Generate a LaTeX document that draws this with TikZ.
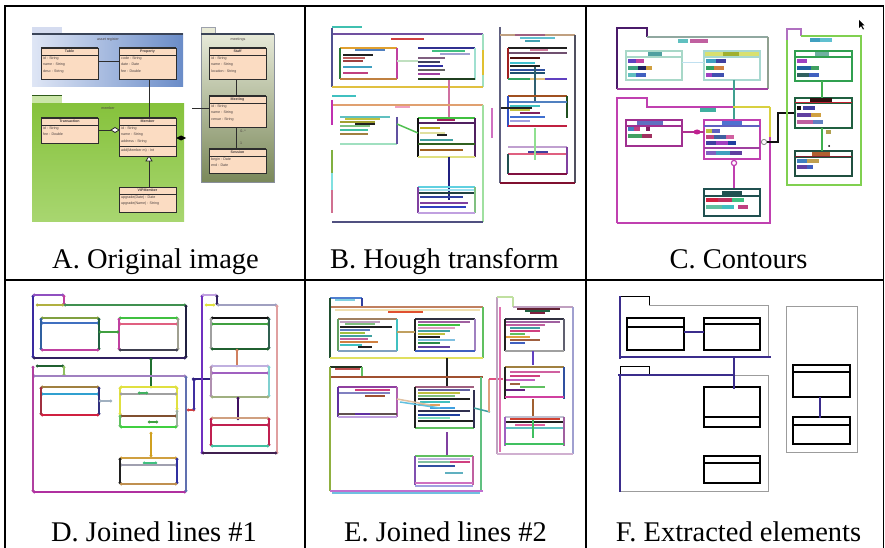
\documentclass[tikz,border=0pt]{standalone}
\usepackage{fontspec}
\setmainfont{Liberation Serif}
\newfontfamily\tinysans{Liberation Sans}
\usetikzlibrary{arrows.meta}
\definecolor{peach}{HTML}{FBDCC2}
\definecolor{umlline}{HTML}{2D2D2D}
\definecolor{umltext}{HTML}{4A4040}
\definecolor{tabblue}{HTML}{D5DCF0}
\definecolor{blueL}{HTML}{DFE6F5}
\definecolor{blueR}{HTML}{6A8CC8}
\definecolor{pkline}{HTML}{3A4458}
\definecolor{tabgreen}{HTML}{CBE6A8}
\definecolor{darkgreen}{HTML}{2F5A1A}
\definecolor{greenT}{HTML}{86C23C}
\definecolor{greenB}{HTML}{A8D670}
\definecolor{tabolive}{HTML}{E8EAD6}
\definecolor{oliveT}{HTML}{E6E9D8}
\definecolor{oliveB}{HTML}{7A885A}
\definecolor{fpurple}{HTML}{3B2D8C}
\definecolor{fgrey}{HTML}{9C9C9C}
% coloured segments: \hseg[opts]{y}{x1}{x2}{HEX}, \vseg[opts]{x}{y1}{y2}{HEX}
\newcommand\hseg[5][]{\definecolor{segc}{HTML}{#5}\draw[ln,segc,#1] (#3,#2) -- (#4,#2);}
\newcommand\vseg[5][]{\definecolor{segc}{HTML}{#5}\draw[ln,segc,#1] (#2,#3) -- (#2,#4);}
% small filled bar standing for a word of text
\newcommand\blob[4]{\definecolor{segc}{HTML}{#4}\fill[segc] (#1,{#2-2}) rectangle ({#1+#3},{#2+2});}
% outlined class with header line, one colour
\newcommand\cclass[7][1.4pt]{\definecolor{segc}{HTML}{#7}\draw[segc,line width=#1] (#2,#3) rectangle (#4,#5);\draw[segc,line width=#1] (#2,#6) -- (#4,#6);}
% UML class box with name and attributes
\newcommand\aclass[8]{%
  \draw[uml] (#1,#2) rectangle (#3,#4);
  \draw[umlline,line width=1pt] (#1,#2) -- (#3,#2);
  \draw[umlline,line width=0.6pt] (#1,#5) -- (#3,#5);
  \node[tinyt,font=\tinysans\bfseries\fontsize{3.6}{6.4}\selectfont] (#8) at ({(#1+#3)/2},{(#2+#5)/2}) {#6};
  \node[tinyt,anchor=north west,align=left] at ({#1+2},{#5+1.5}) {#7};}
% plain extracted class box with its separator
\newcommand\fclass[5]{\draw[fbox] (#1,#2) rectangle (#3,#4);\draw[fbox,line width=1.7pt] (#1,#5) -- (#3,#5);}
\begin{document}
\begin{tikzpicture}[x=1pt,y=-1pt,
  ln/.style={line width=1.5pt},
  frame/.style={line width=1.8pt,black},
  captxt/.style={font=\fontsize{28.5}{30}\selectfont,anchor=base,inner sep=0pt},
  uml/.style={fill=peach,draw=umlline,line width=0.6pt},
  conn/.style={draw=umlline,line width=0.8pt},
  tinyt/.style={font=\tinysans\fontsize{3.6}{6.4}\selectfont,text=umltext,inner sep=0pt},
  fbox/.style={draw=black,line width=1.1pt},
  fpk/.style={draw=fgrey,line width=1pt},
  fcon/.style={draw=fpurple,line width=2pt}]
\useasboundingbox (0,0) rectangle (885,548);
\fill[white] (0,0) rectangle (885,548);

%% ---------- A: original diagram ----------
\fill[tabblue] (32,27) rectangle (62,34);
\shade[left color=blueL,right color=blueR] (32,34) rectangle (183,87);
\draw[pkline,line width=1.1pt] (32,34) -- (183,34);
\node[tinyt] (Ap1) at (108,40) {asset register};
\fill[tabgreen] (32,96) rectangle (62,104);
\draw[darkgreen,line width=1pt] (32,96) -- (62,96);
\shade[top color=greenT,bottom color=greenB] (32,104) rectangle (184,221);
\node[tinyt] (Ap2) at (108,108) {member};
\fill[tabolive] (201,27) rectangle (215,34);
\draw[pkline!50,line width=0.4pt] (201,27) rectangle (215,34);
\shade[top color=oliveT,bottom color=oliveB] (201,34) rectangle (274,182);
\draw[pkline!60,line width=0.5pt] (201,34) rectangle (274,182);
\draw[pkline,line width=1.1pt] (201,34) -- (274,34);
\node[tinyt] (Ap3) at (238,40) {meetings};
\draw[conn] (98,61) -- (119,61);
\draw[conn] (149,79) -- (149,118);
\draw[conn] (98,130) -- (111,130);
\draw[conn,fill=white] (111,130) -- (115,127.5) -- (119,130) -- (115,132.5) -- cycle;
\draw[conn] (149,187) -- (149,161);
\draw[conn,fill=white] (149,156) -- (152,161) -- (146,161) -- cycle;
\fill[black] (176,138) -- (181,135.5) -- (186,138) -- (181,140.5) -- cycle;
\draw[conn] (192,108) -- (209,108);
\draw[conn] (236,79) -- (236,96);
\draw[conn] (236,127) -- (236,149);
\node[tinyt] at (243,131) {0..*};
\node[tinyt] at (241,143) {1};
\aclass{41}{48}{98}{79}{55}{Table}{id : String\\name : String\\desc : String}{Atab}
\aclass{119}{48}{176}{79}{55}{Property}{code : String\\date : Date\\fee : Double}{Aprop}
\aclass{41}{118}{98}{143}{125}{Transaction}{id : String\\fee : Double}{Atrans}
\aclass{119}{118}{176}{156}{125}{Member}{id : String\\name : String\\address : String}{Amem}
\draw[umlline,line width=0.6pt] (119,146) -- (176,146);
\node[tinyt,anchor=west] at (121,151) {add(Member m) : Int};
\aclass{119}{187}{176}{212}{194}{VIPMember}{upgrade(Date) : Date\\upgrade(Name) : String}{Avip}
\aclass{209}{48}{266}{79}{55}{Staff}{id : String\\name : String\\location : String}{Astaff}
\aclass{209}{96}{266}{127}{103}{Meeting}{id : String\\name : String\\venue : String}{Ameet}
\aclass{209}{149}{266}{173}{156}{Session}{begin : Date\\end : Date}{Asess}

%% ---------- B: Hough transform segments ----------
\hseg{27}{332}{362}{40C0B0}
\hseg{34}{332}{483}{7050A0}
\vseg{332}{28}{87}{505090}
\vseg{483}{34}{87}{A0E0C0}
\vseg{483}{50}{75}{E0C030}
\hseg{87}{332}{483}{E0C040}
\hseg{39}{391}{424}{D04040}
\hseg{48}{340}{397}{E0A030}
\hseg{50}{355}{385}{5080C0}
\vseg{340}{48}{79}{2A7A3A}
\vseg{397}{48}{79}{C040A0}
\hseg{79}{340}{397}{C08040}
\hseg{55}{343}{373}{202020}
\hseg{58}{343}{365}{C06060}
\hseg{61}{343}{363}{A04040}
\hseg{67}{343}{372}{40A0C0}
\hseg{73}{343}{368}{C04080}
\hseg{48}{418}{475}{303090}
\hseg{51}{432}{465}{40C080}
\hseg{54}{440}{470}{A0A0D0}
\vseg{475}{48}{80}{A0E0D0}
\hseg{58}{418}{445}{806080}
\hseg{62}{418}{440}{404060}
\hseg{66}{418}{443}{3030A0}
\hseg{70}{418}{445}{606060}
\hseg{74}{418}{440}{A040A0}
\hseg{79}{418}{475}{204020}
\hseg{61}{397}{418}{C0E0C0}
\vseg{449}{80}{118}{D070A0}
\hseg{96}{332}{356}{40C0C0}
\hseg{105}{332}{483}{E0A070}
\hseg{107}{395}{410}{F0A0C0}
\vseg{483}{105}{222}{A0E0A0}
\hseg{222}{332}{483}{505080}
\vseg{332}{100}{125}{C030B0}
\vseg{332}{150}{173}{80B040}
\vseg{332}{173}{190}{80E0E0}
\vseg{332}{190}{213}{D07090}
\hseg{117}{340}{390}{60C0C0}
\hseg{119}{345}{380}{C0C040}
\hseg{122}{340}{375}{A0A030}
\hseg{124}{355}{375}{202020}
\hseg{126}{340}{370}{80C080}
\hseg{130}{340}{368}{40C0A0}
\hseg{134}{340}{368}{A08040}
\hseg{144}{340}{397}{A0E0C0}
\vseg{397}{117}{144}{6050A0}
\hseg{118}{418}{475}{40C040}
\hseg{120}{437}{455}{A02060}
\hseg{123}{418}{475}{502060}
\vseg{418}{118}{157}{101010}
\vseg{475}{118}{157}{502060}
\hseg{128}{420}{440}{C0B020}
\hseg{133}{420}{445}{E0E0A0}
\hseg{135}{437}{447}{202020}
\hseg{140}{420}{453}{40A0A0}
\hseg[line width=2pt]{144}{418}{475}{306020}
\hseg[line width=2pt]{150}{420}{463}{A06020}
\hseg{157}{418}{475}{E0E080}
\draw[ln,color={rgb,255:red,80;green,192;blue,80}] (397,124) -- (418,133);
\vseg{449}{157}{200}{202080}
\hseg{187}{418}{475}{60D0E0}
\hseg{190}{418}{475}{A0E0F0}
\hseg{193}{418}{475}{204040}
\vseg{418}{187}{213}{8040A0}
\vseg{475}{187}{213}{80C080}
\hseg{197}{420}{463}{3040A0}
\hseg{203}{420}{468}{8040A0}
\hseg{207}{420}{466}{3040C0}
\hseg{213}{418}{475}{C0A0E0}
\vseg{492}{108}{138}{D070C0}
\vseg{500}{27}{183}{606080}
\hseg{35}{500}{575}{C0A080}
\hseg{35}{515}{545}{A06080}
\hseg{38}{520}{555}{60C0D0}
\hseg{41}{525}{540}{40A0B0}
\vseg{575}{35}{183}{505060}
\hseg{183}{500}{575}{801030}
\hseg{48}{508}{567}{202020}
\hseg{50}{530}{548}{D080A0}
\hseg{53}{508}{567}{705070}
\vseg{508}{48}{79}{A02020}
\hseg{58}{510}{540}{501010}
\hseg{63}{510}{535}{40C0D0}
\hseg{66}{510}{540}{202020}
\hseg{70}{510}{545}{3050A0}
\hseg{73}{510}{545}{205070}
\hseg{79}{508}{530}{30A060}
\hseg{79}{530}{545}{E0C080}
\hseg{79}{545}{567}{6040C0}
\vseg{535}{67}{102}{306070}
\hseg{96}{508}{567}{A05020}
\vseg{567}{96}{118}{205020}
\hseg{102}{508}{567}{5080C0}
\vseg{508}{96}{127}{3050C0}
\hseg{106}{510}{540}{40C0C0}
\hseg{110}{510}{530}{C0C040}
\hseg{113}{520}{540}{802060}
\hseg{117}{510}{545}{4070D0}
\hseg{121}{510}{530}{A0A0E0}
\hseg{126}{508}{567}{C02040}
\hseg{108}{501}{532}{202020}
\hseg{147}{508}{567}{C0A0D0}
\hseg{152}{528}{548}{4040A0}
\hseg{154}{508}{567}{E06080}
\vseg{508}{154}{174}{205050}
\vseg{567}{147}{174}{8040A0}
\hseg{174}{508}{567}{801040}
\vseg{535}{128}{160}{90E090}

%% ---------- C: contours ----------
\definecolor{segc}{HTML}{4A1A6A}
\draw[segc,line width=1.6pt] (617,89) -- (617,28) -- (647,28) -- (647,37);
\hseg{37}{647}{768}{90A8A0}
\vseg{768}{37}{89}{90A090}
\hseg{89}{617}{768}{A040A0}
\blob{678}{41}{10}{60C0C0}\blob{690}{41}{18}{C060A0}
\cclass{626}{51}{682}{80}{57}{A8D8C8}
\blob{648}{54}{14}{50A0A0}
\blob{628}{61}{8}{6040C0}\blob{636}{61}{8}{C040A0}
\blob{628}{68}{10}{40A080}\blob{638}{68}{8}{202060}\blob{646}{68}{6}{D0A040}
\blob{628}{75}{8}{60C0C0}\blob{636}{75}{10}{4060C0}
\fill[color={rgb,255:red,216;green,224;blue,112}] (704,51) rectangle (760,57);
\cclass{704}{51}{760}{80}{57}{A8D8D0}
\blob{723}{54}{16}{A0B030}
\blob{706}{61}{10}{40A0C0}\blob{716}{61}{10}{4040A0}
\blob{706}{68}{8}{30A060}\blob{714}{68}{10}{D08040}
\blob{706}{75}{6}{A040C0}\blob{712}{75}{12}{4050B0}
\hseg[line width=1pt]{63}{682}{704}{C0E0F0}
\vseg{734}{80}{120}{40A090}
\definecolor{segc}{HTML}{C040B0}
\draw[segc,line width=1.8pt] (617,223) -- (617,98) -- (647,98) -- (647,107) -- (733,107);
\draw[segc,line width=1.8pt] (770,137) -- (770,223) -- (617,223);
\hseg[line width=1.8pt]{107}{733}{770}{D8D040}
\vseg[line width=1.8pt]{770}{107}{137}{D8D040}
\blob{700}{110}{16}{40B0A0}
\cclass{626}{120}{682}{146}{126}{A03090}
\blob{637}{123}{26}{6070C0}
\blob{628}{129}{6}{4080C0}\blob{634}{129}{6}{C04080}\blob{646}{129}{4}{802060}
\blob{628}{136}{14}{40A060}\blob{642}{136}{10}{A03060}
\cclass{704}{120}{760}{159}{126}{C040B0}
\hseg[line width=1.2pt]{126}{704}{760}{6060C0}
\hseg[line width=1.2pt]{148}{704}{760}{A040A0}
\blob{722}{123}{20}{5070D0}
\blob{706}{131}{6}{C0C040}\blob{712}{131}{8}{6060C0}
\blob{706}{137}{8}{C04080}\blob{714}{137}{12}{4060A0}\blob{726}{137}{8}{D060A0}
\blob{706}{143}{10}{4040A0}\blob{716}{143}{12}{A040C0}\blob{728}{143}{8}{2040A0}
\blob{706}{153}{10}{8060C0}\blob{716}{153}{14}{40A0C0}\blob{730}{153}{12}{6040A0}
\hseg[line width=1.8pt]{132}{682}{704}{B03090}
\fill[color={rgb,255:red,192;green,32;blue,144}] (697,132) ellipse (3.5 and 2.5);
\draw[color={rgb,255:red,192;green,64;blue,176},line width=1.2pt,fill=white] (734,163) circle (2.6);
\vseg[line width=1.8pt]{734}{166}{189}{C040B0}
\definecolor{segc}{HTML}{101010}
\draw[segc,line width=1.8pt] (767,142) -- (778,142) -- (778,113) -- (796,113);
\draw[gray,line width=0.8pt,fill=white] (764,142) circle (2.6);
\cclass{704}{189}{760}{216}{196}{205050}
\blob{722}{193}{20}{205050}
\blob{706}{200}{12}{D02040}\blob{718}{200}{14}{C03060}\blob{732}{200}{12}{40C080}
\blob{706}{207}{16}{60C0A0}\blob{722}{207}{12}{40C0C0}\blob{738}{207}{10}{C04080}
\definecolor{segc}{HTML}{B070C0}
\draw[segc,line width=1.6pt] (787,40) -- (787,29) -- (801,29) -- (801,36);
\definecolor{segc}{HTML}{80D050}
\draw[segc,line width=1.6pt] (801,36) -- (861,36) -- (861,185) -- (787,185) -- (787,40);
\blob{810}{40}{10}{40A0C0}\blob{820}{40}{12}{60C0D0}
\cclass[1.6pt]{795}{51}{852}{81}{57}{30A050}
\blob{815}{54}{14}{70B0A0}
\blob{797}{61}{10}{A040C0}
\blob{797}{68}{14}{2060A0}\blob{811}{68}{8}{40A060}
\blob{797}{75}{12}{306060}\blob{809}{75}{10}{4060C0}
\cclass[1.6pt]{795}{98}{852}{128}{103}{206040}
\blob{810}{100}{22}{301010}
\hseg[line width=1pt]{103}{795}{852}{C02030}
\blob{797}{108}{4}{101010}\blob{803}{108}{12}{4040A0}
\blob{797}{115}{14}{6040A0}\blob{811}{115}{10}{D0A040}
\blob{797}{122}{16}{C060A0}\blob{813}{122}{10}{6080C0}
\cclass[1.6pt]{795}{151}{852}{176}{157}{205040}
\hseg[line width=1pt]{157}{795}{852}{802030}
\blob{812}{154}{18}{B06030}
\blob{797}{161}{10}{4080C0}\blob{807}{161}{12}{C0A050}
\blob{797}{167}{10}{6040A0}\blob{807}{167}{6}{4060C0}
\vseg[line width=1.8pt]{822}{81}{98}{40B050}
\vseg[line width=1.8pt]{822}{128}{151}{40B050}
\blob{826}{132}{5}{B0A050}
\fill[black] (829,146) circle (1);
\fill[black] (859,20) -- (859,28) -- (861,26) -- (863,29.5) -- (864,29) -- (862,25.5) -- (864.5,25.5) -- cycle;

%% ---------- D: joined lines, first pass ----------
\begin{scope}[ln/.style={line width=1.6pt,{Circle[length=2.6pt]}-{Circle[length=2.6pt]}}]
\vseg{33}{295}{358}{3A2AA0}
\hseg{295}{33}{64}{9050C0}
\vseg{64}{295}{305}{C040A0}
\hseg{305}{36}{64}{B0B040}
\hseg{305}{64}{186}{409050}
\vseg{186}{305}{358}{202040}
\hseg{358}{33}{186}{302060}
\hseg{318}{41}{99}{80A040}
\hseg{323}{41}{99}{4070C0}
\vseg{41}{318}{350}{3060A0}
\vseg{99}{318}{350}{206040}
\hseg{350}{41}{99}{C040A0}
\hseg{318}{119}{178}{40C040}
\hseg{324}{119}{178}{E06080}
\vseg{119}{318}{350}{C040A0}
\vseg{178}{318}{350}{A0A090}
\hseg{350}{119}{178}{404050}
\hseg{332}{99}{119}{40A040}
\vseg{151}{358}{388}{207030}
\hseg{366}{36}{64}{206030}
\vseg{64}{366}{376}{90C060}
\hseg{376}{33}{186}{A080C0}
\vseg{33}{366}{492}{B040A0}
\hseg{492}{33}{186}{B030A0}
\vseg{186}{376}{492}{6070B0}
\hseg{387}{41}{99}{A08040}
\hseg{394}{41}{99}{30A0D0}
\vseg{41}{387}{415}{A03040}
\vseg{99}{387}{415}{303080}
\hseg{415}{41}{99}{D02040}
\hseg{401}{99}{112}{A0B0C0}
\hseg[line width=2.2pt]{387}{120}{177}{E0E040}
\vseg[line width=2.2pt]{120}{387}{415}{E0E040}
\vseg[line width=2.2pt]{177}{387}{410}{E0E040}
\hseg{394}{120}{177}{A0A0A0}
\hseg{393}{138}{148}{40B060}
\hseg{416}{120}{177}{805030}
\vseg{120}{415}{427}{60C060}
\vseg{177}{410}{427}{A0B0A0}
\hseg{427}{120}{177}{40D040}
\hseg{422}{148}{158}{40A040}
\vseg{151}{432}{457}{D0A020}
\hseg{458}{120}{177}{D0A040}
\hseg{463}{143}{157}{40C080}
\hseg{465}{120}{177}{A0A0B0}
\vseg{120}{458}{484}{202020}
\vseg{177}{458}{484}{3030A0}
\hseg{484}{120}{177}{C09050}
\hseg{410}{187}{195}{D04040}
\vseg{194}{379}{410}{4030A0}
\hseg{379}{192}{212}{302080}
\vseg{202}{295}{454}{7030C0}
\hseg{295}{202}{217}{C0A0E0}
\vseg{217}{295}{305}{302060}
\hseg{305}{205}{215}{E0E040}
\hseg{305}{217}{277}{A0A0C0}
\vseg{277}{305}{454}{E0A0A0}
\hseg{453}{202}{277}{402050}
\hseg{318}{211}{269}{101010}
\hseg{324}{211}{269}{40A040}
\vseg{211}{318}{349}{A0A0A0}
\vseg{269}{318}{349}{306050}
\hseg{349}{211}{269}{206030}
\vseg{237}{349}{367}{D08060}
\hseg{366}{211}{269}{C0B0E0}
\hseg{373}{211}{269}{A060C0}
\vseg{211}{366}{397}{B090B0}
\vseg{269}{366}{397}{80D0D0}
\hseg{397}{211}{269}{A0B080}
\vseg{238}{397}{420}{401060}
\hseg{418}{211}{269}{D0A080}
\hseg{425}{211}{269}{C02050}
\vseg{211}{418}{446}{C02050}
\vseg{269}{418}{446}{C02050}
\hseg{446}{211}{269}{40C0A0}
\end{scope}

%% ---------- E: joined lines, second pass ----------
\hseg{298}{330}{362}{5080D0}
\hseg{300}{335}{355}{80D0E0}
\vseg{362}{298}{307}{3040A0}
\hseg[line width=2.2pt]{307}{330}{483}{C08060}
\hseg{310}{335}{480}{F0E0B0}
\hseg{312}{388}{423}{E05030}
\vseg{330}{298}{358}{205030}
\vseg{483}{307}{358}{60C060}
\hseg[line width=2.6pt]{358}{330}{483}{E0E060}
\hseg{319}{338}{397}{A08060}
\vseg{338}{319}{351}{60A060}
\vseg{397}{319}{351}{40C0C0}
\hseg{351}{338}{397}{80A0C0}
\hseg{322}{340}{380}{C0A0C0}
\hseg{324}{345}{375}{80C080}
\hseg{327}{340}{392}{202020}
\hseg{330}{340}{370}{6080C0}
\hseg{333}{340}{365}{A0C040}
\hseg{336}{340}{372}{40A0A0}
\hseg{339}{340}{368}{C060A0}
\hseg{342}{340}{378}{D08040}
\hseg{345}{340}{362}{40C0C0}
\hseg{347}{358}{372}{202020}
\hseg{319}{415}{475}{303040}
\vseg{415}{319}{351}{202020}
\vseg{475}{319}{351}{A080C0}
\hseg{322}{418}{470}{A060A0}
\hseg{325}{418}{460}{40C040}
\hseg{328}{418}{455}{E0A0C0}
\hseg{331}{418}{450}{40A0A0}
\hseg{334}{418}{445}{C0C040}
\hseg{337}{418}{440}{202020}
\hseg{340}{418}{455}{80C0E0}
\hseg{343}{418}{440}{2A8A4A}
\hseg{347}{418}{450}{6040A0}
\hseg{351}{415}{475}{4060C0}
\hseg{332}{397}{415}{C0A060}
\vseg{447}{358}{387}{202020}
\hseg{367}{330}{362}{203020}
\vseg{362}{367}{377}{60C060}
\hseg{369}{335}{360}{C05050}
\hseg[line width=2.2pt]{377}{330}{483}{A05030}
\vseg{330}{367}{491}{90B040}
\vseg{481}{377}{491}{60C080}
\hseg{491}{330}{483}{C070D0}
\hseg{493}{332}{480}{70C0E0}
\hseg{387}{338}{397}{9040A0}
\hseg{390}{355}{390}{D04080}
\hseg{393}{338}{390}{8080C0}
\hseg{396}{365}{385}{A05030}
\vseg{338}{387}{417}{6030A0}
\vseg{397}{387}{417}{B060B0}
\hseg{414}{338}{397}{605050}
\hseg{414}{355}{370}{6030A0}
\hseg{417}{338}{397}{C0A0E0}
\hseg{387}{415}{474}{A06080}
\hseg{390}{418}{470}{6060A0}
\hseg{393}{418}{460}{C0C040}
\hseg{396}{418}{455}{80C080}
\hseg{399}{418}{470}{202020}
\hseg{402}{420}{450}{40C0C0}
\hseg{405}{418}{440}{E0A060}
\hseg{408}{430}{455}{40A0E0}
\hseg{411}{418}{470}{303050}
\hseg{415}{418}{460}{2040A0}
\hseg{418}{418}{450}{80E0C0}
\hseg[line width=2pt]{421}{418}{474}{202020}
\hseg{428}{415}{474}{60C060}
\vseg{415}{387}{428}{202020}
\vseg{474}{390}{428}{303050}
\draw[ln,color={rgb,255:red,224;green,192;blue,160}] (397,399) -- (430,405);
\draw[ln,color={rgb,255:red,96;green,192;blue,224}] (400,402) -- (440,408);
\vseg{447}{432}{455}{8040A0}
\hseg{456}{415}{473}{60C060}
\hseg{459}{418}{470}{C0B0E0}
\hseg{462}{418}{450}{80C0A0}
\hseg{462}{450}{470}{D04080}
\hseg{466}{418}{455}{3050A0}
\hseg{473}{445}{463}{60B0C0}
\vseg{415}{456}{485}{8050B0}
\vseg{473}{456}{485}{C060A0}
\hseg{483}{415}{473}{D070C0}
\hseg{486}{415}{473}{A0A0E0}
\draw[ln,color={rgb,255:red,64;green,160;blue,160}] (474,408) -- (490,412);
\vseg{489}{379}{412}{E0A080}
\hseg{379}{489}{503}{E05080}
\vseg{497}{297}{454}{C0A0C0}
\vseg{500}{307}{452}{E070B0}
\hseg{297}{497}{513}{C0E0A0}
\vseg{513}{297}{307}{C0E0A0}
\hseg{307}{513}{573}{C0A0C0}
\hseg{309}{517}{560}{602030}
\hseg{311}{525}{550}{206040}
\hseg{313}{530}{545}{802040}
\vseg{573}{307}{454}{A0A0D0}
\hseg{454}{497}{573}{D0B0D0}
\hseg{319}{505}{564}{303040}
\hseg{322}{505}{560}{A060A0}
\hseg{325}{505}{545}{C060A0}
\hseg{328}{510}{540}{40A0A0}
\hseg{331}{510}{540}{D04080}
\hseg{334}{510}{525}{60C060}
\hseg{337}{505}{530}{E0A040}
\hseg{340}{510}{540}{A06040}
\hseg{343}{510}{525}{4060C0}
\vseg{505}{319}{351}{202020}
\vseg{564}{319}{351}{606070}
\hseg{351}{505}{564}{A0A0A0}
\vseg{533}{351}{365}{6040C0}
\hseg[line width=2.2pt]{367}{505}{564}{A08040}
\hseg{372}{510}{560}{D060A0}
\hseg{376}{510}{540}{D04080}
\hseg{380}{505}{535}{C060C0}
\hseg{384}{510}{520}{A06040}
\hseg{387}{520}{545}{60C060}
\hseg{390}{505}{525}{602080}
\vseg{505}{367}{399}{202020}
\vseg{564}{367}{399}{3050A0}
\hseg{397}{505}{564}{D040A0}
\vseg{533}{399}{417}{A06030}
\hseg{417}{505}{564}{C0C0D0}
\hseg{419}{510}{560}{D04030}
\hseg{422}{505}{564}{202020}
\hseg{425}{515}{545}{E060A0}
\hseg{428}{505}{564}{60C0C0}
\vseg{533}{420}{438}{40C060}
\vseg{505}{417}{446}{A060C0}
\vseg{564}{417}{446}{A060A0}
\hseg[line width=2pt]{444}{505}{564}{40C060}

%% ---------- F: extracted elements ----------
\draw[fpk] (649,305) -- (768,305) -- (768,357);
\draw[fpk] (734,375) -- (768,375) -- (768,491) -- (620,491);
\draw[fpk] (786,306) rectangle (857,452);
\draw[black,line width=0.9pt] (620,305) -- (620,296) -- (649,296) -- (649,305);
\draw[black,line width=0.9pt] (620,375) -- (620,366) -- (649,366) -- (649,375);
\fclass{627}{318}{684}{350}{327}
\fclass{704}{318}{760}{350}{324}
\fclass{704}{387}{760}{427}{417}
\fclass{704}{456}{760}{483}{463}
\fclass{793}{365}{850}{397}{372}
\fclass{793}{417}{850}{444}{425}
\draw[fcon] (620,296) -- (620,359);
\draw[fcon] (620,357) -- (771,357);
\draw[fcon] (734,357) -- (734,389);
\draw[fcon] (618,375) -- (734,375);
\draw[fcon] (620,375) -- (620,492);
\draw[fcon] (684,332) -- (704,332);
\draw[fcon] (820,397) -- (820,418);

%% ---------- grid and captions ----------
\draw[frame] (5,548) -- (5,6) -- (883.5,6) -- (883.5,548);
\draw[frame] (5,280) -- (883.5,280);
\draw[frame] (305,6) -- (305,548);
\draw[frame] (586,6) -- (586,548);
\node[captxt] (capA) at (155.5,268) {A. Original image};
\node[captxt] (capB) at (444.5,268) {B. Hough transform};
\node[captxt] (capC) at (738.5,268) {C. Contours};
\node[captxt] (capD) at (154,541) {D. Joined lines \#1};
\node[captxt] (capE) at (445.5,541) {E. Joined lines \#2};
\node[captxt] (capF) at (738.5,541) {F. Extracted elements};
\end{tikzpicture}
\end{document}
